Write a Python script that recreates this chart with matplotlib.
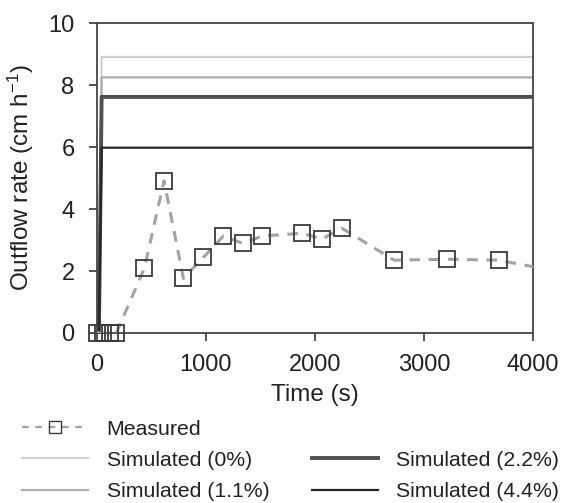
import numpy as np
import matplotlib.pyplot as plt
from matplotlib.lines import Line2D

plt.rcParams['font.family'] = ['Liberation Sans', 'DejaVu Sans']
plt.rcParams['mathtext.fontset'] = 'custom'
plt.rcParams['mathtext.rm'] = 'Liberation Sans'
plt.rcParams['mathtext.it'] = 'Liberation Sans:italic'

# measured outflow
meas_t = [0, 60, 120, 180, 437, 617, 795, 978, 1162, 1339, 1519, 1885, 2064, 2248, 2727, 3211, 3684]
meas_q = [0, 0, 0, 0, 2.09, 4.91, 1.76, 2.44, 3.13, 2.89, 3.13, 3.22, 3.03, 3.38, 2.35, 2.38, 2.35]
# line continues past the plot edge
tail_t = [4000]
tail_q = [2.14]

# simulated outflow for each slope
sim_t = [0, 20, 45, 4000]
sim_levels = {
    'Simulated (0%)': 8.91,
    'Simulated (1.1%)': 8.25,
    'Simulated (2.2%)': 7.62,
    'Simulated (4.4%)': 5.98,
}
sim_styles = {
    'Simulated (0%)': ('#d0d0d0', 1.6),
    'Simulated (1.1%)': ('#acacac', 1.6),
    'Simulated (2.2%)': ('#505050', 2.8),
    'Simulated (4.4%)': ('#262626', 1.6),
}

fig = plt.figure(figsize=(5.64, 5.03), dpi=100)
ax = fig.add_axes([0.1715, 0.338, 0.7735, 0.616])

handles = {}
for name, lev in sim_levels.items():
    c, lw = sim_styles[name]
    q = [0, 0, lev, lev]
    ln, = ax.plot(sim_t, q, color=c, lw=lw, zorder=2)
    handles[name] = ln

ax.plot(meas_t + tail_t, meas_q + tail_q, color='#a3a3a3', lw=2.2, ls=(0, (3.5, 2.8)), zorder=3)
ax.plot(meas_t, meas_q, ls='none', marker='s', ms=11, mfc='none', mec='#3a3a3a', mew=1.3,
        clip_on=False, zorder=4)

ax.set_xlim(0, 4000)
ax.set_ylim(0, 10)
ax.set_xticks([0, 1000, 2000, 3000, 4000])
ax.set_yticks([0, 2, 4, 6, 8, 10])
ax.tick_params(labelsize=17, length=6, width=1.3, color='#444444', direction='out',
               labelcolor='#222222')
ax.tick_params(axis='x', pad=9)
ax.tick_params(axis='y', pad=10)
for s in ax.spines.values():
    s.set_color('#444444')
    s.set_linewidth(1.3)
ax.set_xlabel('Time (s)', fontsize=17.5, labelpad=6, color='#222222')
ax.set_ylabel('Outflow rate (cm h$^{\\mathrm{-1}}$)', fontsize=17.5, labelpad=9, color='#222222')

meas_h = Line2D([], [], color='#a3a3a3', lw=1.6, ls=(0, (3, 3)), marker='s', ms=8,
                mfc='none', mec='#3a3a3a', mew=1)
blank = Line2D([], [], color='none')
fig.legend([meas_h, handles['Simulated (0%)'], handles['Simulated (1.1%)'],
            blank, handles['Simulated (2.2%)'], handles['Simulated (4.4%)']],
           ['Measured', 'Simulated (0%)', 'Simulated (1.1%)',
            '', 'Simulated (2.2%)', 'Simulated (4.4%)'],
           ncol=2, loc='upper left', bbox_to_anchor=(0.039, 0.166), frameon=False,
           borderpad=0, borderaxespad=0,
           fontsize=15.3, handlelength=3.1, handletextpad=0.88, columnspacing=2.0,
           labelspacing=0.58, labelcolor='#222222')

fig.savefig('out.png', dpi=100)
